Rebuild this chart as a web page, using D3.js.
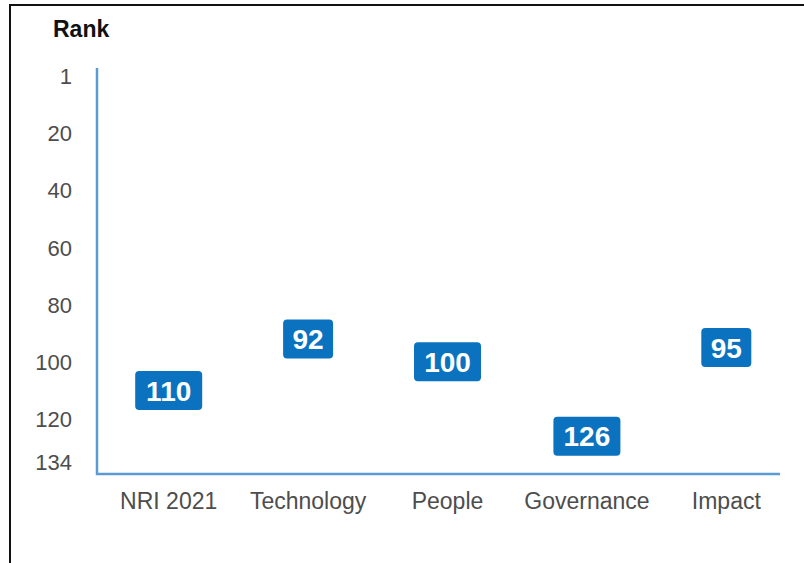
<!DOCTYPE html>
<html>
<head>
<meta charset="utf-8">
<script src="https://cdn.jsdelivr.net/npm/d3@7/dist/d3.min.js"></script>
<style>
  html, body { margin: 0; padding: 0; background: #fff; }
  svg { display: block; }
</style>
</head>
<body>
<script>
// Network Readiness Index 2021 ranks by pillar
const categories = ["NRI 2021", "Technology", "People", "Governance", "Impact"];
const ranks = [110, 92, 100, 126, 95];
const tickValues = [1, 20, 40, 60, 80, 100, 120, 134];

const W = 804, H = 563;
const font = "Arial, 'Liberation Sans', sans-serif";
const svg = d3.select("body").append("svg").attr("width", W).attr("height", H);

// frame (top and left edges)
svg.append("line").attr("x1", 10).attr("y1", 5).attr("x2", W).attr("y2", 5)
  .attr("stroke", "#111").attr("stroke-width", 2);
svg.append("line").attr("x1", 10).attr("y1", 4).attr("x2", 10).attr("y2", H)
  .attr("stroke", "#111").attr("stroke-width", 2);

// rank axis: 1 at top, worse ranks downward
const y = d3.scaleLinear().domain([-2.7, 139.2]).range([68, 474]);
const x = d3.scaleBand().domain(categories).range([99, 796]);

const axisColor = "#5b9bd5";
const labelColor = "#4d4d4d";

// y tick labels
const yAxis = d3.axisLeft(y).tickValues(tickValues).tickSize(0).tickPadding(0);
const gy = svg.append("g").attr("transform", "translate(72,0)").call(yAxis);
gy.select(".domain").remove();
gy.selectAll("text")
  .attr("font-family", font)
  .attr("font-size", 22).attr("fill", labelColor).attr("dy", "0.35em")
  .attr("y", d => d === 134 ? 3 : (d === 1 ? -2.5 : 0));

// x category labels
const xAxis = d3.axisBottom(x).tickSize(0).tickPadding(0);
const gx = svg.append("g").attr("transform", "translate(0,501)").call(xAxis);
gx.select(".domain").remove();
gx.selectAll("text")
  .attr("font-family", font)
  .attr("font-size", 23).attr("fill", labelColor).attr("dy", "0.35em");

// axis lines
svg.append("path")
  .attr("d", `M97,${y.range()[0]}V${y.range()[1]}H780`)
  .attr("fill", "none").attr("stroke", axisColor).attr("stroke-width", 2.5);

// title
svg.append("text").attr("x", 53).attr("y", 37)
  .attr("font-family", font)
  .attr("font-size", 23).attr("font-weight", "bold").attr("fill", "#111")
  .text("Rank");

// rank badges
const boxColor = "#0b72c0";
const g = svg.append("g");
const data = categories.map((c, i) => ({ c, r: ranks[i] }));
const badge = g.selectAll("g.badge").data(data).join("g").attr("class", "badge")
  .attr("transform", d => `translate(${x(d.c) + x.bandwidth() / 2},${y(d.r)})`);
badge.append("rect")
  .attr("x", d => String(d.r).length > 2 ? -33.5 : -25)
  .attr("width", d => String(d.r).length > 2 ? 67 : 50)
  .attr("y", -19.5).attr("height", 39).attr("rx", 4)
  .attr("fill", boxColor);
badge.append("text")
  .attr("text-anchor", "middle").attr("dy", "0.36em")
  .attr("font-family", font)
  .attr("font-size", 28).attr("font-weight", "bold").attr("fill", "#fff")
  .text(d => d.r);
</script>
</body>
</html>
